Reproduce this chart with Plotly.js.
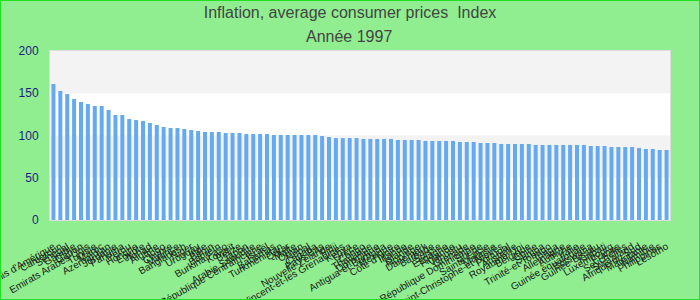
<!DOCTYPE html>
<html>
<head>
<meta charset="utf-8">
<script src="https://cdn.plot.ly/plotly-3.0.1.min.js"></script>
<style>
  html, body { margin: 0; padding: 0; background: #90ee90; }
  #chart { width: 700px; height: 300px; position: relative; }
  #frame { position: absolute; left: 0; top: 0; width: 698px; height: 298px; border: 1px solid #22e022; pointer-events: none; }
</style>
</head>
<body>
<div style="position:relative;width:700px;height:300px;">
  <div id="chart"></div>
  <div id="frame"></div>
</div>
<script>
const titleLine1 = "Inflation, average consumer prices  Index";
const titleLine2 = "Année 1997";

const countries = [
  "Etats-Unis d'Amérique", "Cameroun", "Sénégal", "Gambie", "Gabon",
  "Emirats Arabes Unis", "Tunisie", "Maroc", "Azerbaïdjan", "Jordanie",
  "Panama", "Pérou", "Hongrie", "Egypte", "Tchad",
  "Algérie", "Togo", "Chypre", "Maurice", "Bangladesh",
  "Niger", "Uruguay", "Inde", "Bénin", "Bahreïn",
  "Burkina Faso", "Koweït", "Belize", "Japon", "Arabie Saoudite",
  "République Centrafricaine", "Israël", "Bahamas", "Turkménistan", "Qatar",
  "Malte", "Oman", "Népal", "Canada", "Pays-Bas",
  "Nouvelle-Zélande", "Fidji", "Saint-Vincent-et-les Grenadines", "Kenya", "Grèce",
  "Congo", "Thaïlande", "Dominique", "Antigua-et-Barbuda", "Mexique",
  "Côte d'Ivoire", "Irlande", "Islande", "Norvège", "Danemark",
  "Barbade", "Suisse", "Espagne", "Finlande", "Vanuatu",
  "Grenade", "République Dominicaine", "Suède", "Sainte-Lucie", "Malaisie",
  "Saint-Christophe-et-Niévès", "Portugal", "Australie", "Royaume-Uni", "Belgique",
  "Chine", "Samoa", "Trinité-et-Tobago", "Tonga", "Allemagne",
  "Autriche", "Italie", "Guinée équatoriale", "Botswana", "Guinée-Bissau",
  "Kiribati", "Luxembourg", "France", "Seychelles", "Swaziland",
  "Afrique du Sud", "Mauritanie", "Namibie", "Philippines", "Lesotho"
];

const values = [
  161.0, 152.7, 149.1, 143.2, 139.6,
  137.3, 134.9, 134.9, 130.2, 124.3,
  124.3, 119.5, 118.3, 117.2, 114.8,
  112.4, 110.1, 108.9, 108.9, 107.7,
  106.5, 105.3, 104.1, 104.1, 104.1,
  103.0, 103.0, 103.0, 101.8, 101.8,
  101.8, 101.8, 100.6, 100.6, 100.6,
  100.6, 100.6, 100.6, 100.6, 99.4,
  98.2, 97.0, 97.0, 97.0, 97.0,
  95.9, 95.9, 95.9, 95.9, 95.9,
  94.7, 94.7, 94.7, 94.7, 93.5,
  93.5, 93.5, 93.5, 93.5, 92.3,
  92.3, 92.3, 91.1, 91.1, 91.1,
  89.9, 89.9, 89.9, 89.9, 89.9,
  88.8, 88.8, 88.8, 88.8, 88.8,
  88.8, 88.8, 88.8, 87.6, 87.6,
  87.6, 86.4, 86.4, 86.4, 86.4,
  85.2, 84.0, 84.0, 82.8, 82.8
];

const yTicks = [0, 50, 100, 150, 200];
const bands = [[50, 100], [150, 200]];

const trace = {
  type: 'bar',
  x: countries,
  y: values,
  marker: { color: '#64a9f1', line: { width: 0 } },
  hoverinfo: 'x+y'
};

const layout = {
  width: 700,
  height: 300,
  margin: { l: 50, r: 30, t: 51, b: 80, pad: 0 },
  paper_bgcolor: '#90ee90',
  plot_bgcolor: '#ffffff',
  font: { family: 'Liberation Sans, Arial, sans-serif', color: '#222' },
  bargap: 0.42,
  showlegend: false,
  title: {
    text: titleLine1,
    font: { size: 16, color: '#444444', family: 'Liberation Sans, Arial, sans-serif' },
    x: 0.5, xref: 'container', xanchor: 'center',
    y: 0.96, yref: 'container', yanchor: 'middle'
  },
  annotations: [{
    text: titleLine2,
    xref: 'paper', yref: 'paper',
    x: 0.482, y: 1.085,
    xanchor: 'center', yanchor: 'middle',
    showarrow: false,
    font: { size: 16, color: '#444444', family: 'Liberation Sans, Arial, sans-serif' }
  }],
  xaxis: {
    type: 'category',
    tickmode: 'array',
    tickvals: countries,
    ticktext: countries,
    tickangle: -30,
    tickfont: { size: 10, color: '#1a1a1a' },
    ticklabelstandoff: 16,
    showgrid: false,
    zeroline: false,
    showline: true,
    linecolor: '#dddddd',
    linewidth: 1,
    mirror: true,
    ticks: ''
  },
  yaxis: {
    range: [0, 200],
    tickmode: 'array',
    tickvals: yTicks,
    tickfont: { size: 12, color: '#1c1c80' },
    showgrid: false,
    zeroline: false,
    showline: true,
    linecolor: '#dddddd',
    linewidth: 1,
    mirror: true,
    ticks: '',
    ticklabelstandoff: 8
  },
  shapes: bands.map(b => ({
    type: 'rect', xref: 'paper', yref: 'y',
    x0: 0, x1: 1, y0: b[0], y1: b[1],
    fillcolor: '#f3f3f3', line: { width: 0 }, layer: 'below'
  }))
};

Plotly.newPlot('chart', [trace], layout, { displayModeBar: false, staticPlot: true });
</script>
</body>
</html>
